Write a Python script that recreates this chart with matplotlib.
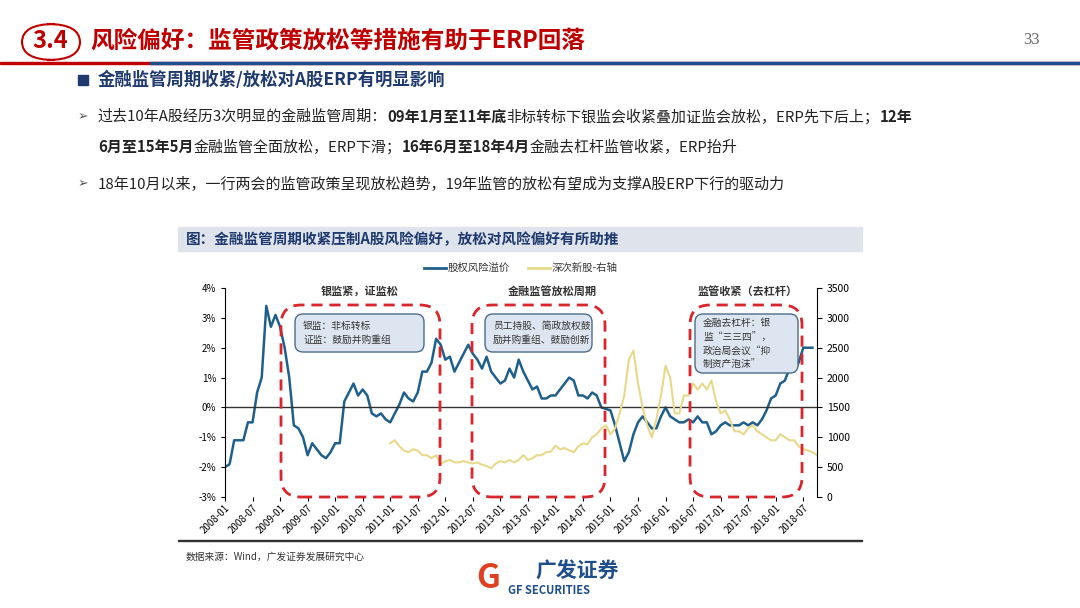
import matplotlib
matplotlib.use("Agg")
import matplotlib.pyplot as plt
import numpy as np
from matplotlib.patches import FancyBboxPatch, Rectangle
from matplotlib.lines import Line2D

plt.rcParams["font.family"] = ["Noto Sans CJK SC", "DejaVu Sans"]

erp = [-2.0,-1.9,-1.1,-1.1,-1.1,-0.5,-0.5,0.5,1.0,3.4,2.7,3.1,
       2.7,2.0,1.0,-0.6,-0.7,-1.0,-1.6,-1.2,-1.4,-1.6,
       -1.7,-1.5,-1.2,-1.2,0.2,0.5,0.8,0.4,0.6,0.4,-0.2,-0.3,
       -0.2,-0.4,-0.5,-0.2,0.1,0.5,0.3,0.2,0.5,1.2,1.2,1.5,
       2.3,2.1,1.6,1.7,1.2,1.5,1.8,2.1,1.8,1.6,1.3,1.7,
       1.2,1.0,0.8,0.9,1.3,1.0,1.6,1.2,0.9,0.6,0.7,0.3,
       0.3,0.4,0.4,0.6,0.8,1.0,0.9,0.4,0.4,0.3,0.5,0.4,
       0.0,-0.05,-0.1,-0.6,-1.2,-1.8,-1.5,-0.9,-0.5,-0.3,-0.5,-0.7,
       -0.7,-0.3,0.0,-0.3,-0.4,-0.5,-0.5,-0.4,-0.5,-0.3,-0.5,-0.5,
       -0.9,-0.8,-0.6,-0.5,-0.6,-0.6,-0.6,-0.5,-0.6,-0.5,-0.6,-0.4,
       -0.1,0.3,0.4,0.8,0.9,1.3,1.2,1.5,2.0,2.0,2.0]
ipo = [900,950,850,780,750,800,780,700,700,650,700,550,
       600,620,580,580,600,580,560,580,540,520,480,560,
       600,580,620,580,620,700,620,650,700,700,750,760,
       860,800,820,780,750,850,900,880,1000,1050,1150,1200,
       1050,1150,1400,1700,2300,2450,1900,1500,1200,1000,1300,1700,
       2200,2000,1400,1400,1700,1700,1900,1800,1900,1800,1950,1600,
       1400,1450,1300,1100,1100,1050,1150,1200,1100,1050,1000,950,
       950,1050,1000,950,950,850,800,780,750,700]
ipo_start = 36  # 2011-01
tick_labels = [f"{y}-{m}" for y in range(2008, 2019) for m in ("01", "07")]

W, H = 1080, 608
fig = plt.figure(figsize=(10.8, 6.08), dpi=100)
def fx(x): return x / W
def fy(y): return 1 - y / H

renderer = fig.canvas.get_renderer()
def rich(x, y, parts, **kw):
    cur = x
    for txt, bold in parts:
        t = fig.text(fx(cur), fy(y), txt, fontweight="bold" if bold else "normal", va="center", **kw)
        bb = t.get_window_extent(renderer=renderer)
        cur += bb.width

# header
fig.add_artist(Rectangle((0, fy(64)), 1, 2/H, transform=fig.transFigure, color="#c00000"))
fig.add_artist(Rectangle((fx(150), fy(64)), 1, 2/H, transform=fig.transFigure, color="#1f4e8c"))
fig.add_artist(FancyBboxPatch((fx(22), fy(60)), fx(58), 36/H, boxstyle="round,pad=0,rounding_size=0.03",
                              transform=fig.transFigure, fc="white", ec="#c00000", lw=1.5))
fig.text(fx(50), fy(41), "3.4", color="#c00000", fontsize=17, fontweight="bold", ha="center", va="center")
fig.text(fx(90), fy(41), "风险偏好：监管政策放松等措施有助于ERP回落", color="#c00000", fontsize=17,
         fontweight="bold", va="center")
fig.text(fx(1040), fy(40), "33", color="#666666", fontsize=12, ha="right", va="center", family="Liberation Serif")
fig.add_artist(Rectangle((fx(78), fy(85)), 10/W, 10/H, transform=fig.transFigure, color="#1f3a6e"))
fig.text(fx(98), fy(80), "金融监管周期收紧/放松对A股ERP有明显影响", color="#1f3a6e", fontsize=12.5,
         fontweight="bold", va="center")
fig.text(fx(78), fy(117), "➢", color="#555555", fontsize=9, va="center")
kw = dict(fontsize=10.8, color="#222222")
rich(98, 117, [("过去10年A股经历3次明显的金融监管周期：", False), ("09年1月至11年底", True),
               ("非标转标下银监会收紧叠加证监会放松，ERP先下后上；", False), ("12年", True)], **kw)
rich(98, 147, [("6月至15年5月", True), ("金融监管全面放松，ERP下滑；", False), ("16年6月至18年4月", True),
               ("金融去杠杆监管收紧，ERP抬升", False)], **kw)
fig.text(fx(78), fy(184), "➢", color="#555555", fontsize=9, va="center")
fig.text(fx(98), fy(184), "18年10月以来，一行两会的监管政策呈现放松趋势，19年监管的放松有望成为支撑A股ERP下行的驱动力",
         va="center", **kw)

# chart title band
fig.add_artist(Rectangle((fx(178), fy(251)), fx(684), 24/H, transform=fig.transFigure, color="#dfe3ec"))
fig.text(fx(186), fy(239), "图：金融监管周期收紧压制A股风险偏好，放松对风险偏好有所助推", fontsize=10.5,
         fontweight="bold", color="#1f3a6e", va="center")
fig.add_artist(Rectangle((fx(178), fy(541)), fx(684), 1.5/H, transform=fig.transFigure, color="#333333"))
fig.text(fx(186), fy(557), "数据来源：Wind，广发证券发展研究中心", fontsize=7, color="#333333", va="center")
fig.text(fx(535), fy(571), "广发证券", fontsize=15, fontweight="bold", color="#1f4e8c", va="center")
fig.text(fx(508), fy(591), "GF SECURITIES", fontsize=8, fontweight="bold", color="#1f4e8c", va="center")
fig.text(fx(488), fy(578), "G", fontsize=24, fontweight="bold", color="#e04020", ha="center", va="center")

# axes
ax = fig.add_axes([fx(225), fy(497), 592/W, 209/H])
x = np.arange(len(erp))
ax.plot(x, erp, color="#1f5f8b", lw=1.8)
ax.set_ylim(-3, 4)
ax.set_xlim(0, 129)
ax.axhline(0, color="#333333", lw=1)
ax.set_yticks(range(-3, 5))
ax.set_yticklabels([f"{v}%" for v in range(-3, 5)], fontsize=7)
ax.set_xticks(range(0, 127, 6))
ax.set_xticklabels(tick_labels, rotation=45, ha="right", fontsize=7, rotation_mode="anchor")
ax2 = ax.twinx()
xi = np.arange(ipo_start, ipo_start + len(ipo))
ax2.plot(xi, ipo, color="#e8d98a", lw=1.5)
ax2.set_ylim(0, 3500)
ax2.set_yticks(range(0, 3501, 500))
ax2.tick_params(labelsize=7.5)
for a in (ax, ax2):
    a.spines["top"].set_visible(False)
ax.spines["right"].set_visible(False)
ax2.spines["left"].set_visible(False)
ax.spines["bottom"].set_visible(False)
ax2.spines["bottom"].set_visible(False)
ax.tick_params(axis="x", length=3, pad=1)
ax.tick_params(axis="y", length=3)

# legend
fig.add_artist(Line2D([fx(424), fx(446)], [fy(268)] * 2, transform=fig.transFigure, color="#1f5f8b", lw=2))
fig.text(fx(448), fy(268), "股权风险溢价", fontsize=7.5, va="center", color="#333333")
fig.add_artist(Line2D([fx(528), fx(550)], [fy(268)] * 2, transform=fig.transFigure, color="#e8d98a", lw=2))
fig.text(fx(552), fy(268), "深次新股-右轴", fontsize=7.5, va="center", color="#333333")

# region labels and boxes
for cx, t in [(360, "银监紧，证监松"), (552, "金融监管放松周期"), (748, "监管收紧（去杠杆）")]:
    fig.text(fx(cx), fy(291), t, fontsize=8, fontweight="bold", ha="center", va="center", color="#333333")
def box(x0, y0, x1, y1, **kw):
    fig.add_artist(FancyBboxPatch((x0 / 100, (H - y1) / 100), (x1 - x0) / 100, (y1 - y0) / 100,
                                  transform=fig.dpi_scale_trans, **kw))
for x0, x1 in [(281, 440), (472, 605), (690, 802)]:
    box(x0, 305, x1, 497, boxstyle="round,pad=0,rounding_size=0.2", fc="none", ec="#d9262c",
        lw=2, ls=(0, (4, 2.5)))
notes = [(295, 314, 424, 352, "银监：非标转标\n证监：鼓励并购重组"),
         (485, 314, 592, 352, "员工持股、简政放权鼓\n励并购重组、鼓励创新"),
         (695, 314, 798, 373, "金融去杠杆：银\n监“三三四”，\n政治局会议“抑\n制资产泡沫”")]
for x0, y0, x1, y1, t in notes:
    box(x0, y0, x1, y1, boxstyle="round,pad=0,rounding_size=0.08", fc="#dde6f0", ec="#4a6c8c", lw=1)
    fig.text(fx(x0 + 8), fy((y0 + y1) / 2), t, fontsize=7, va="center", color="#333333", linespacing=1.5)

fig.savefig("out.png", dpi=100)
